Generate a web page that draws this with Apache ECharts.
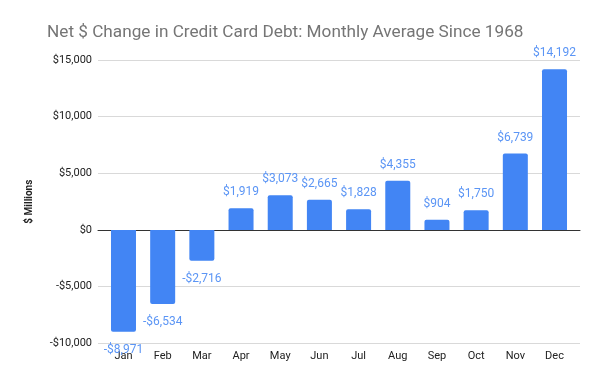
<!DOCTYPE html>
<html><head><meta charset="utf-8">
<script src="https://cdn.jsdelivr.net/npm/echarts@6/dist/echarts.min.js"></script>
<style>html,body{margin:0;padding:0;background:#fff}#c{width:600px;height:381px}</style>
</head><body><div id="c"></div>
<script>
const months = ['Jan','Feb','Mar','Apr','May','Jun','Jul','Aug','Sep','Oct','Nov','Dec'];
const netChange = [-8971,-6534,-2716,1919,3073,2665,1828,4355,904,1750,6739,14192];
const yMin = -10000, yMax = 15000, yStep = 5000;
const titleText = 'Net $ Change in Credit Card Debt: Monthly Average Since 1968';
const yName = '$ Millions';

function money(v){
  const s = '$' + Math.abs(v).toLocaleString('en-US');
  return v < 0 ? '-' + s : s;
}
const FONT = 'Roboto';
const chart = echarts.init(document.getElementById('c'), null, {renderer:'canvas'});
chart.setOption({
  animation:false,
  backgroundColor:'#fff',
  title:{text:titleText,left:42,top:19,textStyle:{fontFamily:FONT,fontSize:17.2,fontWeight:'normal',color:'#757575'}},
  grid:[
    {left:98,right:20,top:60,bottom:37.7,containLabel:false},
    {left:103.9,right:25.9,top:60,bottom:37.7,containLabel:false}
  ],
  xAxis:[
    {type:'category',gridIndex:0,data:[''],axisLine:{show:true,onZero:true,lineStyle:{color:'#333',width:1}},axisTick:{show:false},axisLabel:{show:false},splitLine:{show:false}},
    {type:'category',gridIndex:1,data:months,axisLine:{show:false},axisTick:{show:false},position:'bottom',
      axisLabel:{fontFamily:FONT,fontSize:11,color:'#222',margin:7}}
  ],
  yAxis:[
    {type:'value',gridIndex:0,min:yMin,max:yMax,interval:yStep,
      name:yName,nameLocation:'middle',nameGap:64,nameRotate:90,
      nameTextStyle:{fontFamily:FONT,fontSize:10,fontWeight:'bold',color:'#222'},
      axisLine:{show:false},axisTick:{show:false},
      axisLabel:{fontFamily:FONT,fontSize:11,color:'#222',margin:6,formatter:money},
      splitLine:{lineStyle:{color:'#d9d9d9',width:1}}},
    {type:'value',gridIndex:1,min:yMin,max:yMax,interval:yStep,show:false,splitLine:{show:false}}
  ],
  series:[{
    type:'bar',xAxisIndex:1,yAxisIndex:1,barWidth:25,
    data:netChange.map(v=> v<0 ? {value:v,label:{position:'bottom',distance:12},itemStyle:{borderRadius:[0,0,2,2]}} : v),
    itemStyle:{color:'#4285f4',borderRadius:[2,2,0,0]},
    label:{show:true,position:'top',distance:10,fontFamily:FONT,fontSize:12,color:'#5b95f5',formatter:p=>money(p.value)}
  }]
});
</script></body></html>
